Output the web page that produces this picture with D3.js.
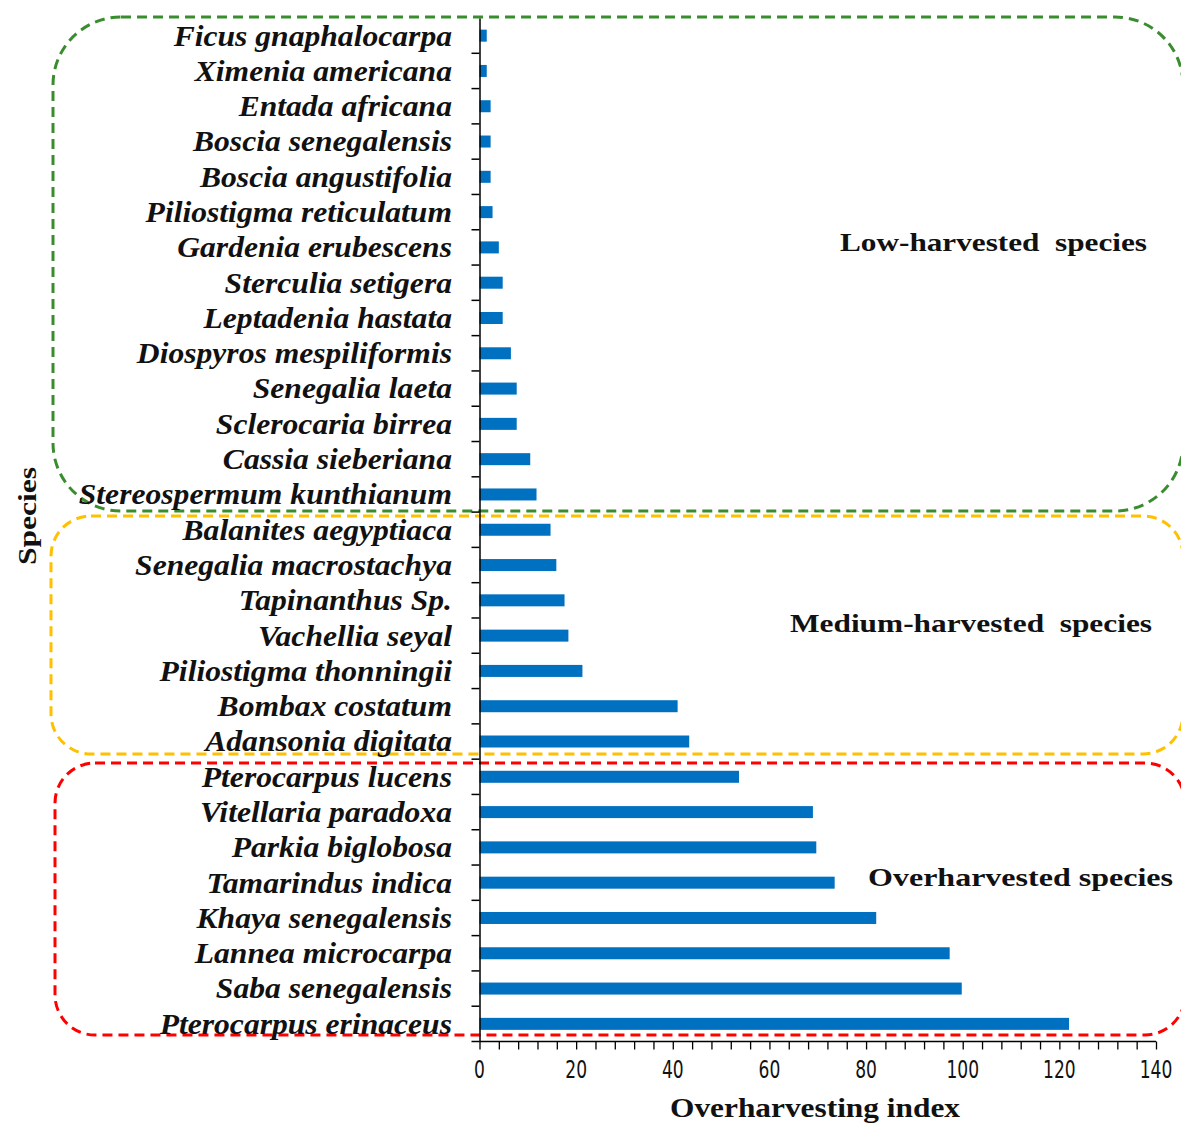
<!DOCTYPE html>
<html><head><meta charset="utf-8">
<script src="https://cdn.jsdelivr.net/npm/d3@7"></script>
<style>body{margin:0;background:#fff}</style>
</head><body>
<svg id="chart" width="1181" height="1126"></svg>
<script>
const species = ["Ficus gnaphalocarpa","Ximenia americana","Entada africana","Boscia senegalensis","Boscia angustifolia","Piliostigma reticulatum","Gardenia erubescens","Sterculia setigera","Leptadenia hastata","Diospyros mespiliformis","Senegalia laeta","Sclerocaria birrea","Cassia sieberiana","Stereospermum kunthianum","Balanites aegyptiaca","Senegalia macrostachya","Tapinanthus Sp.","Vachellia seyal","Piliostigma thonningii","Bombax costatum","Adansonia digitata","Pterocarpus lucens","Vitellaria paradoxa","Parkia biglobosa","Tamarindus indica","Khaya senegalensis","Lannea microcarpa","Saba senegalensis","Pterocarpus erinaceus"];
const values = [1.5,1.5,2.3,2.3,2.3,2.7,4.0,4.8,4.8,6.5,7.7,7.7,10.5,11.8,14.7,15.9,17.6,18.4,21.3,41.0,43.4,53.7,69.0,69.7,73.5,82.1,97.3,99.8,122.0];
const xTicks = [0,20,40,60,80,100,120,140];
const groups = [
  {label:"Low-harvested  species", color:"#3a8d2f"},
  {label:"Medium-harvested  species", color:"#ffc000"},
  {label:"Overharvested species", color:"#ff0000"}
];

const svg = d3.select("#chart");
const x = d3.scaleLinear().domain([0,140]).range([479.5,1156]);
const y = d3.scaleBand().domain(species).range([18,1041.5]).paddingInner(0.66).paddingOuter(0.33);
const step = y.step();

// group boxes
const boxGeom = [
  {x:53, y:17, w:1130, h:494, r:68},
  {x:51, y:516, w:1132, h:238, r:40},
  {x:55, y:763, w:1130, h:272, r:40}
];
const labelGeom = [
  {x:840, y:251, len:307},
  {x:790, y:632, len:362},
  {x:868, y:886, len:305}
];
groups.forEach((g,i)=>{
  const b = boxGeom[i];
  svg.append("rect").attr("x",b.x).attr("y",b.y).attr("width",b.w).attr("height",b.h)
    .attr("rx",b.r).attr("ry",b.r).attr("fill","none").attr("stroke",g.color)
    .attr("stroke-width",3).attr("stroke-dasharray","10,6");
});

// bars
svg.append("g").selectAll("rect").data(species).join("rect")
  .attr("x",x(0)).attr("y",d=>y(d)).attr("height",y.bandwidth())
  .attr("width",(d,i)=>x(values[i])-x(0)).attr("fill","#0070c0");

// y axis
const yAxis = d3.axisLeft(y).tickSize(0).tickFormat("");
const ya = svg.append("g").attr("transform",`translate(${x(0)},0)`).call(yAxis);
ya.select(".domain").attr("stroke","#000").attr("stroke-width",1.5);
svg.append("g").selectAll("line").data(species).join("line")
  .attr("x1",x(0)-8).attr("x2",x(0))
  .attr("y1",d=>y(d)-y.step()*y.paddingInner()/2+step).attr("y2",d=>y(d)-y.step()*y.paddingInner()/2+step)
  .attr("stroke","#000").attr("stroke-width",1.5);
// species labels
svg.append("g").selectAll("text").data(species).join("text")
  .attr("transform",d=>`translate(452,${y(d)+y.bandwidth()/2}) scale(1.09,1)`)
  .attr("dy","0.34em")
  .attr("text-anchor","end").attr("font-family","'Liberation Serif','Times New Roman',serif")
  .attr("font-weight","bold").attr("font-style","italic").attr("font-size",29)
  .attr("fill","#111").text(d=>d);

// x axis
const xAxis = d3.axisBottom(x).tickValues(d3.range(0,141,4)).tickSize(8).tickFormat("");
const xa = svg.append("g").attr("transform","translate(0,1041.5)").call(xAxis);
xa.select(".domain").attr("stroke","#000").attr("stroke-width",1.5).attr("d",`M${x(0)},0H${x(140)}`);
xa.selectAll(".tick line").attr("stroke","#000").attr("stroke-width",1.3);
svg.append("g").selectAll("text").data(xTicks).join("text")
  .attr("transform",d=>`translate(${x(d)},1078) scale(1,1.3)`).attr("text-anchor","middle")
  .attr("font-family","'Liberation Sans Narrow','Arial Narrow','DejaVu Sans Condensed',sans-serif")
  .attr("font-size",19).attr("fill","#111").text(d=>d);

// axis titles
svg.append("text").attr("x",670).attr("y",1117).attr("textLength",290).attr("lengthAdjust","spacingAndGlyphs")
  .attr("font-family","'Liberation Serif','Times New Roman',serif").attr("font-weight","bold")
  .attr("font-size",27).attr("fill","#111").text("Overharvesting index");
svg.append("text").attr("transform","translate(36,565) rotate(-90)").attr("textLength",98).attr("lengthAdjust","spacingAndGlyphs")
  .attr("font-family","'Liberation Serif','Times New Roman',serif").attr("font-weight","bold")
  .attr("font-size",26).attr("fill","#111").text("Species");

// group labels
groups.forEach((g,i)=>{
  const l = labelGeom[i];
  svg.append("text").attr("x",l.x).attr("y",l.y).attr("textLength",l.len).attr("lengthAdjust","spacingAndGlyphs")
    .attr("font-family","'Liberation Serif','Times New Roman',serif").attr("font-weight","bold")
    .attr("font-size",26).attr("fill","#111").attr("xml:space","preserve").style("white-space","pre").text(g.label);
});
</script>
</body></html>
